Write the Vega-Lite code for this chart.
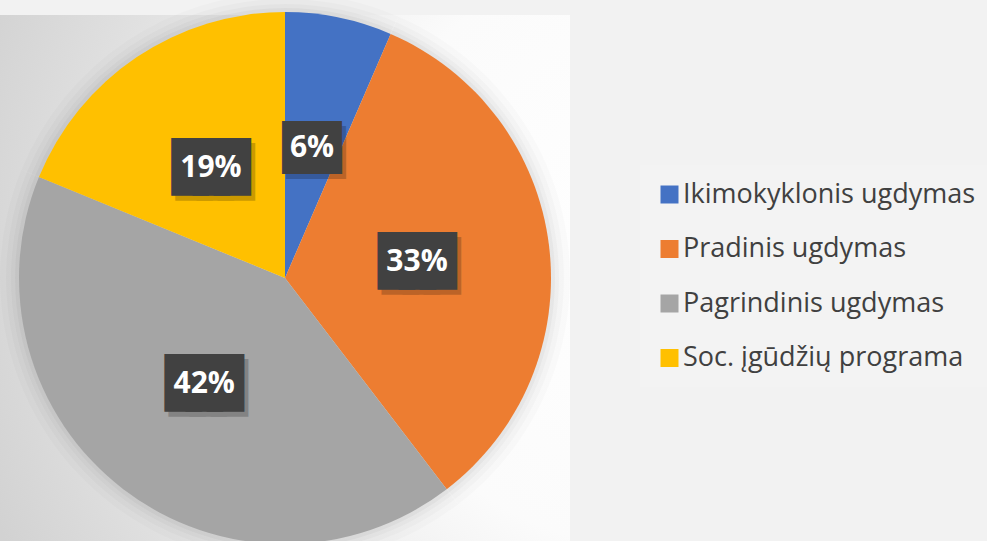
{
  "$schema": "https://vega.github.io/schema/vega-lite/v6.json",
  "width": 570,
  "height": 526,
  "autosize": {"type": "none"},
  "padding": {"top": 15, "left": 0, "right": 417, "bottom": 0},
  "background": "#f2f2f2",
  "config": {"view": {"stroke": null}},
  "data": {
    "values": [
      {"category": "Ikimokyklonis ugdymas", "value": 6.5, "label": "6%", "rank": 1},
      {"category": "Pradinis ugdymas", "value": 33.1, "label": "33%", "rank": 2},
      {"category": "Pagrindinis ugdymas", "value": 41.6, "label": "42%", "rank": 3},
      {"category": "Soc. įgūdžių programa", "value": 18.8, "label": "19%", "rank": 4}
    ]
  },
  "layer": [
    {
      "data": {"values": [{}]},
      "mark": {
        "type": "rect",
        "fill": {
          "gradient": "radial",
          "x1": 1.15, "y1": 0.45, "r1": 0,
          "x2": 1.15, "y2": 0.45, "r2": 1.25,
          "stops": [
            {"offset": 0, "color": "#ffffff"},
            {"offset": 0.42, "color": "#fbfbfb"},
            {"offset": 1, "color": "#d2d2d2"}
          ]
        }
      },
      "encoding": {}
    },
    {
      "mark": {"type": "arc", "outerRadius": 285, "fill": "#000000", "opacity": 0.015},
      "encoding": {
        "theta": {"field": "value", "type": "quantitative", "stack": true},
        "order": {"field": "rank", "type": "quantitative"}
      }
    },
    {
      "mark": {"type": "arc", "outerRadius": 279, "fill": "#000000", "opacity": 0.02},
      "encoding": {
        "theta": {"field": "value", "type": "quantitative", "stack": true},
        "order": {"field": "rank", "type": "quantitative"}
      }
    },
    {
      "mark": {"type": "arc", "outerRadius": 274, "fill": "#000000", "opacity": 0.025},
      "encoding": {
        "theta": {"field": "value", "type": "quantitative", "stack": true},
        "order": {"field": "rank", "type": "quantitative"}
      }
    },
    {
      "mark": {"type": "arc", "outerRadius": 270, "fill": "#000000", "opacity": 0.03},
      "encoding": {
        "theta": {"field": "value", "type": "quantitative", "stack": true},
        "order": {"field": "rank", "type": "quantitative"}
      }
    },
    {
      "mark": {"type": "arc", "outerRadius": 266},
      "encoding": {
        "theta": {"field": "value", "type": "quantitative", "stack": true},
        "order": {"field": "rank", "type": "quantitative"},
        "color": {
          "field": "category",
          "type": "nominal",
          "sort": ["Ikimokyklonis ugdymas", "Pradinis ugdymas", "Pagrindinis ugdymas", "Soc. įgūdžių programa"],
          "scale": {
            "domain": ["Ikimokyklonis ugdymas", "Pradinis ugdymas", "Pagrindinis ugdymas", "Soc. įgūdžių programa"],
            "range": ["#4472C4", "#ED7D31", "#A5A5A5", "#FFC000"]
          },
          "legend": {
            "orient": "none",
            "legendX": 640,
            "legendY": 150,
            "title": null,
            "fillColor": "#f3f3f3",
            "padding": 16,
            "symbolType": "square",
            "symbolSize": 324,
            "symbolStrokeWidth": 0,
            "labelFont": "Open Sans",
            "labelFontSize": 27,
            "labelColor": "#404040",
            "labelLimit": 0,
            "labelOffset": 0,
            "rowPadding": 26.5
          }
        }
      }
    },
    {
      "mark": {
        "type": "text", "radius": 133, "text": "███", "font": "DejaVu Sans Mono",
        "dx": 4, "dy": 5, "fill": "#000000", "stroke": "#000000", "strokeJoin": "miter", "opacity": 0.2
      },
      "encoding": {
        "theta": {"field": "value", "type": "quantitative", "stack": true},
        "order": {"field": "rank", "type": "quantitative"},
        "size": {"condition": {"test": "length(datum.label) < 3", "value": 11}, "value": 35},
        "strokeWidth": {"condition": {"test": "length(datum.label) < 3", "value": 40}, "value": 16}
      }
    },
    {
      "mark": {
        "type": "text", "radius": 133, "text": "███", "font": "DejaVu Sans Mono",
        "fill": "#414141", "stroke": "#414141", "strokeJoin": "miter"
      },
      "encoding": {
        "theta": {"field": "value", "type": "quantitative", "stack": true},
        "order": {"field": "rank", "type": "quantitative"},
        "size": {"condition": {"test": "length(datum.label) < 3", "value": 11}, "value": 35},
        "strokeWidth": {"condition": {"test": "length(datum.label) < 3", "value": 40}, "value": 16}
      }
    },
    {
      "mark": {
        "type": "text", "radius": 133, "font": "Open Sans", "fontWeight": "bold",
        "fontSize": 30, "fill": "#ffffff"
      },
      "encoding": {
        "theta": {"field": "value", "type": "quantitative", "stack": true},
        "order": {"field": "rank", "type": "quantitative"},
        "text": {"field": "label", "type": "nominal"}
      }
    }
  ]
}
